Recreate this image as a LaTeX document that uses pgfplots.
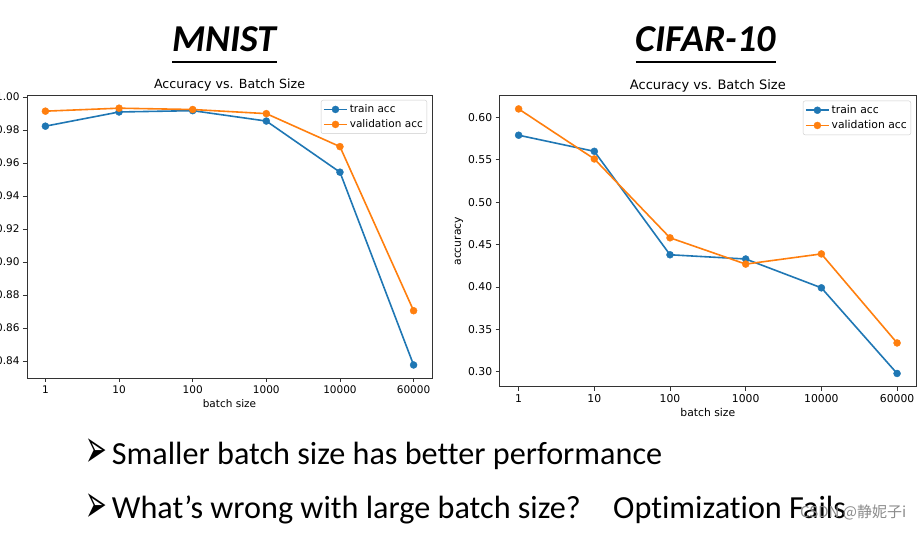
\documentclass[border=0pt]{standalone}
\usepackage{pgfplots}
\pgfplotsset{compat=1.18}
\usepackage{fontspec}
\setmainfont{Carlito}[Ligatures=NoCommon]
\newfontfamily\dejavu{DejaVu Sans}
\newfontfamily\cjk{Noto Sans CJK SC}
\usetikzlibrary{calc}
\definecolor{mplblue}{HTML}{1F77B4}
\definecolor{mplorange}{HTML}{FF7F0E}

\pgfplotstableread{
x train val
0 0.9824 0.9915
1 0.9910 0.9933
2 0.9918 0.9925
3 0.9855 0.9900
4 0.9545 0.9700
5 0.8376 0.8705
}\mnist

\pgfplotstableread{
x train val
0 0.579 0.610
1 0.560 0.551
2 0.438 0.458
3 0.433 0.427
4 0.399 0.439
5 0.298 0.334
}\cifar

\pgfplotsset{
  mplstyle/.style={
    scale only axis,
    axis line style={black!80, line width=0.9pt},
    tick align=outside,
    xtick pos=bottom, ytick pos=left,
    major tick length=4pt,
    every tick/.style={black!80, line width=0.9pt},
    xmin=-0.25, xmax=5.25,
    xtick={0,...,5},
    xticklabels={1,10,100,1000,10000,60000},
    /pgf/number format/assume math mode=true,
    yticklabel style={/pgf/number format/fixed, /pgf/number format/fixed zerofill, /pgf/number format/precision=2},
    legend cell align=left,
    legend style={at={(1,1)}, xshift=-5pt, yshift=-5pt, anchor=north east, draw=black!20, rounded corners=2pt, fill=white, inner xsep=2pt, inner ysep=2.5pt, row sep=1.5pt},
    legend image code/.code={\draw[mark repeat=2,mark phase=2] plot coordinates {(0pt,0pt)(11.5pt,0pt)(23pt,0pt)};},
    every axis plot/.append style={line width=1.6pt, mark=*, mark size=3.5pt, mark options={line width=0.4pt}},
    title style={at={(0.5,1)}, anchor=base, yshift=0pt, inner sep=0pt},
    xlabel style={at={(axis description cs:0.5,0)}, anchor=base, yshift=-29.5pt, inner sep=0pt},
    ylabel style={at={(axis description cs:-0.098,0.5)}, anchor=center, rotate=0},
    xlabel={batch size},
    ylabel={accuracy},
    title={Accuracy vs. Batch Size},
  }
}

\begin{document}
\begin{tikzpicture}[x=1pt,y=1pt]
\clip (0,0) rectangle (924,533);
\fill[white] (0,0) rectangle (924,533);

% titles
\node[anchor=base, inner sep=0pt, font=\bfseries\itshape\fontsize{38}{42}\selectfont] (t1) at (224.5,481) {MNIST};
\draw[line width=1.4pt] ($(t1.base west)+(0,-10)$) -- ($(t1.base east)+(0,-10)$);
\node[anchor=base, inner sep=0pt, font=\bfseries\itshape\fontsize{38}{42}\selectfont] (t2) at (706,481) {CIFAR-10};
\draw[line width=1.4pt] ($(t2.base west)+(0,-10)$) -- ($(t2.base east)+(0,-10)$);

% left: MNIST
\begin{axis}[mplstyle,
  at={(27pt,155pt)}, anchor=south west,
  width=405pt, height=283pt,
  ymin=0.8297, ymax=1.0013,
  ytick={0.84,0.86,0.88,0.90,0.92,0.94,0.96,0.98,1.00},
  tick label style={font=\dejavu\fontsize{10.5}{12}\selectfont},
  label style={font=\dejavu\fontsize{10.5}{12}\selectfont},
  legend style={font=\dejavu\fontsize{10.5}{12}\selectfont},
  title style={font=\dejavu\fontsize{12.6}{14}\selectfont},
]
\addplot[mplblue] table[x=x,y=train] {\mnist};
\addlegendentry{train acc}
\addplot[mplorange] table[x=x,y=val] {\mnist};
\addlegendentry{validation acc}
\end{axis}

% right: CIFAR-10
\begin{axis}[mplstyle,
  at={(499.7pt,146.3pt)}, anchor=south west,
  width=416.3pt, height=291pt,
  ymin=0.2824, ymax=0.6256,
  ytick={0.30,0.35,0.40,0.45,0.50,0.55,0.60},
  tick label style={font=\dejavu\fontsize{10.8}{12}\selectfont},
  label style={font=\dejavu\fontsize{10.8}{12}\selectfont},
  legend style={font=\dejavu\fontsize{10.8}{12}\selectfont},
  title style={font=\dejavu\fontsize{13}{15}\selectfont},
]
\addplot[mplblue] table[x=x,y=train] {\cifar};
\addlegendentry{train acc}
\addplot[mplorange] table[x=x,y=val] {\cifar};
\addlegendentry{validation acc}
\end{axis}

% bullets
\node[anchor=west, inner sep=0pt, xscale=0.72, yscale=1.5, font=\dejavu\fontsize{36}{38}\selectfont] at (85,80) {➢};
\node[anchor=base west, inner sep=0pt, font=\fontsize{32.2}{36}\selectfont] at (111.7,68) {Smaller batch size has better performance};
\node[anchor=west, inner sep=0pt, xscale=0.72, yscale=1.5, font=\dejavu\fontsize{36}{38}\selectfont] at (85,25) {➢};
\node[anchor=base west, inner sep=0pt, font=\fontsize{32.2}{36}\selectfont] at (111.7,15) {What’s wrong with large batch size?};
\node[anchor=base west, inner sep=0pt, font=\fontsize{32.2}{36}\selectfont] at (613,15) {Optimization Fails};
\node[anchor=west, inner sep=0pt, text=black!45, font=\cjk\fontsize{15}{17}\selectfont] at (800,21) {CSDN @静妮子i};
\end{tikzpicture}
\end{document}
